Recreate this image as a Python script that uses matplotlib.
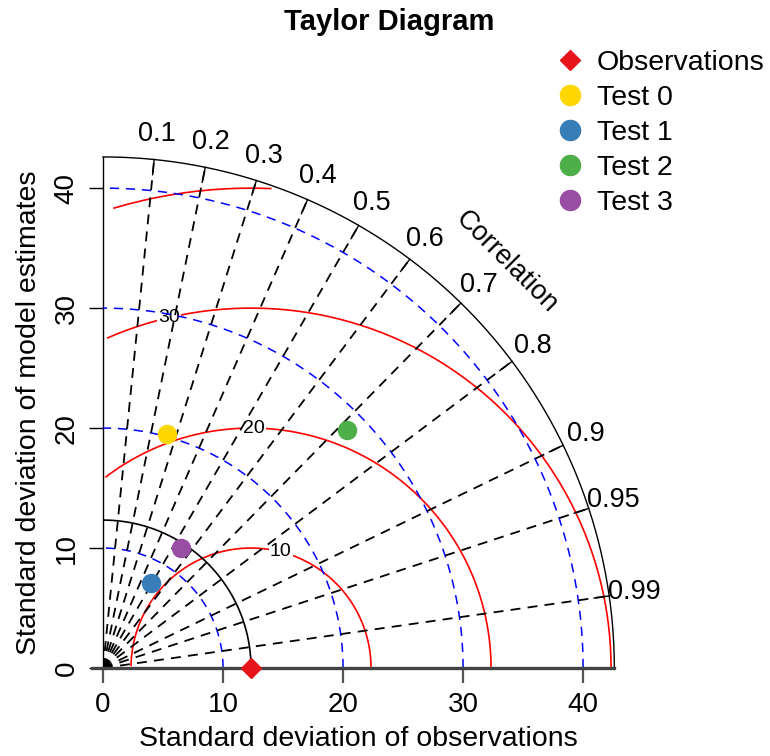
import numpy as np
import matplotlib.pyplot as plt
from matplotlib.lines import Line2D

plt.rcParams['font.family'] = 'Liberation Sans'

# reference and model statistics
ref_sd = 12.33
model_names = ['Test 0', 'Test 1', 'Test 2', 'Test 3']
model_sd = [20.22, 8.13, 28.40, 11.93]
model_corr = [0.264, 0.492, 0.716, 0.545]
model_colors = ['#FFD700', '#377EB8', '#4DAF4A', '#984EA3']

corr_ticks = [0.1, 0.2, 0.3, 0.4, 0.5, 0.6, 0.7, 0.8, 0.9, 0.95, 0.99]
sd_arcs = [10, 20, 30, 40]
gamma = [10, 20, 30, 40]
gamma_label_angle = [1.32, 1.56, 1.80, 2.07]

maxsd = 1.5 * max(max(model_sd), ref_sd)

fig = plt.figure(figsize=(7.7, 7.56), dpi=100)
ax = fig.add_axes([0.1338, 0.1164, 0.664, 0.676])
ax.set_xlim(0, maxsd)
ax.set_ylim(0, maxsd)

for side in ['top', 'right', 'bottom']:
    ax.spines[side].set_visible(False)
ax.spines['left'].set_linewidth(1.0)
ax.plot([-0.022, 1], [0, 0], transform=ax.transAxes, color='#444444',
        lw=2.4, clip_on=False, zorder=5)

ax.set_xticks([0, 10, 20, 30, 40])
ax.set_yticks([0, 10, 20, 30, 40])
ax.tick_params(axis='x', direction='out', length=11, width=1.6,
               color='#555555', labelsize=20, pad=6)
ax.tick_params(axis='y', direction='out', length=10, width=1.0,
               labelsize=20, pad=7, labelrotation=90)
for lab in ax.get_yticklabels():
    lab.set_va('center')
ax.set_xlabel('Standard deviation of observations', fontsize=20.5, labelpad=6)
ax.set_ylabel('Standard deviation of model estimates', fontsize=20.5, labelpad=8)

# centred RMS difference contours around the reference point
t = np.arange(0, np.pi, 0.03)
for g, la in zip(gamma, gamma_label_angle):
    xc = np.cos(t) * g + ref_sd
    yc = np.sin(t) * g
    neg = np.where(xc < 0)[0]
    end = neg.min() if len(neg) else len(t)
    out = np.where(xc ** 2 + yc ** 2 > maxsd ** 2)[0]
    start = out.max() + 1 if len(out) else 0
    ax.plot(xc[start:end], yc[start:end], color='red', lw=1.2, zorder=2)
    lx = np.cos(la) * g + ref_sd
    ly = np.sin(la) * g
    if lx > 0:
        ax.text(lx, ly, str(g), fontsize=14, ha='center', va='center',
                zorder=2.5, bbox=dict(facecolor='white', edgecolor='none', pad=1))

# standard deviation arcs
q = np.linspace(0, np.pi / 2, 300)
for r in sd_arcs:
    ax.plot(r * np.cos(q), r * np.sin(q), color='blue', lw=1.1,
            dashes=(6, 4.5), zorder=3)

# correlation rays
for c in corr_ticks:
    s = np.sqrt(1 - c ** 2)
    ax.plot([0, c * maxsd], [0, s * maxsd], color='black', lw=1.3,
            dashes=(5.5, 4), zorder=3)
    ax.plot([0.97 * c * maxsd, c * maxsd], [0.97 * s * maxsd, s * maxsd],
            color='black', lw=1.0, zorder=3, clip_on=False)
    ax.text(1.05 * c * maxsd, 1.05 * s * maxsd, f'{c:g}', fontsize=19.5,
            ha='center', va='center')

ax.text(0.79 * maxsd, 0.795 * maxsd, 'Correlation', fontsize=19.5, rotation=-45,
        ha='center', va='center')

# outer boundary and reference arc
ax.plot(maxsd * np.cos(q), maxsd * np.sin(q), color='black', lw=1.0,
        clip_on=False, zorder=3)
ax.plot(ref_sd * np.cos(q), ref_sd * np.sin(q), color='black', lw=1.2,
        zorder=3)

ax.plot(ref_sd, 0, 'D', color='#E8141B', ms=10.5, clip_on=False, zorder=6)
for sd, cr, col in zip(model_sd, model_corr, model_colors):
    ax.plot(sd * cr, sd * np.sqrt(1 - cr ** 2), 'o', color=col, ms=13,
            zorder=6)

handles = [Line2D([], [], ls='none', marker='D', color='#E8141B', ms=10.5)]
handles += [Line2D([], [], ls='none', marker='o', color=c, ms=14.5)
            for c in model_colors]
fig.legend(handles, ['Observations'] + model_names, loc='upper left',
           bbox_to_anchor=(0.703, 0.953), frameon=False, fontsize=20.5,
           borderpad=0, handlelength=1.0, handletextpad=0.45,
           labelspacing=0.32)

fig.text(0.506, 0.971, 'Taylor Diagram', fontsize=21, fontweight='bold',
         ha='center', va='center')

fig.savefig('out.png', dpi=100)
